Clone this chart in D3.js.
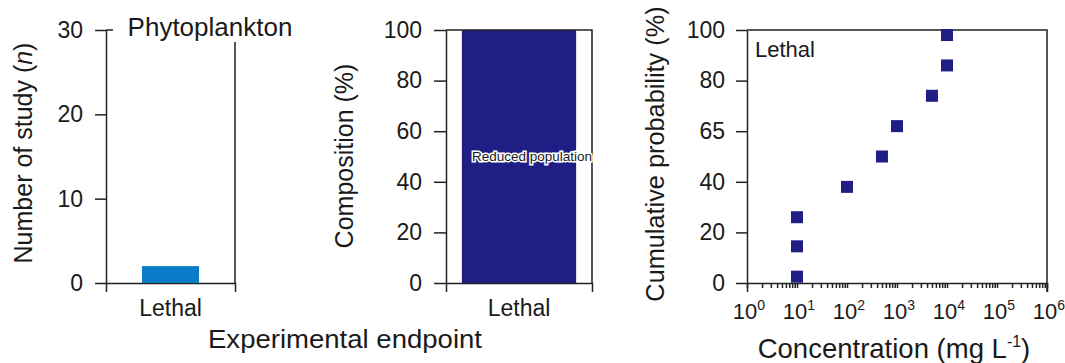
<!DOCTYPE html>
<html>
<head>
<meta charset="utf-8">
<script src="https://cdn.jsdelivr.net/npm/d3@7"></script>
<style>
  body { margin: 0; background: #fff; }
  svg text { font-family: "Liberation Sans", Arial, sans-serif; fill: #1a1a1a; }
  .domain, .tick line { stroke: #222; stroke-width: 1.5; }
</style>
</head>
<body>
<div id="chart"></div>
<script>
// data
var categories = ["Lethal"];
var studyCounts = [2];
var countTicks = [0, 10, 20, 30];

var compositionLabels = ["Reduced population"];
var compositionValues = [100];
var compTicks = [0, 20, 40, 60, 80, 100];

var concentrations = [10, 10, 10, 100, 500, 1000, 5000, 10000, 10000];
var cumulativeProb = [2.5, 14.5, 26, 38, 50, 62, 74, 86, 98];
var probTickValues = [0, 20, 40, 60, 80, 100];
var probTickLabels = ["0", "20", "40", "65", "80", "100"];
var concExponents = [0, 1, 2, 3, 4, 5, 6];

var W = 1065, H = 363;
var plotTop = 30, plotBottom = 283;
var lineCol = "#222";

var svg = d3.select("#chart")
  .append("svg")
  .attr("width", W)
  .attr("height", H);

// ---------- panel 1: number of studies ----------
var x1 = d3.scaleBand().domain(categories).range([106, 235]).padding(0.387);
var y1 = d3.scaleLinear().domain([0, 30]).range([plotBottom, plotTop]);

svg.append("g")
  .attr("transform", "translate(106,0)")
  .call(d3.axisLeft(y1).tickValues(countTicks).tickSize(11).tickSizeOuter(0).tickPadding(12))
  .call(g => g.selectAll(".tick text").style("font-size", "23px"));

// little cap at the top of the left axis
svg.append("line")
  .attr("x1", 106).attr("x2", 113)
  .attr("y1", plotTop).attr("y2", plotTop)
  .attr("stroke", lineCol).attr("stroke-width", 1.5);

svg.append("g")
  .attr("transform", "translate(0," + plotBottom + ")")
  .call(d3.axisBottom(x1).tickSize(0).tickSizeOuter(9).tickPadding(17))
  .call(g => g.selectAll(".tick text").style("font-size", "23px"));

svg.append("line")
  .attr("x1", 235).attr("x2", 235)
  .attr("y1", 42).attr("y2", plotBottom)
  .attr("stroke", lineCol).attr("stroke-width", 1.5);

svg.selectAll(".bar1")
  .data(studyCounts)
  .enter()
  .append("rect")
    .attr("x", (d, i) => x1(categories[i]))
    .attr("y", d => y1(d))
    .attr("width", x1.bandwidth())
    .attr("height", d => y1(0) - y1(d))
    .attr("fill", "#0a7bc8");

svg.append("text")
  .attr("x", 210).attr("y", 36)
  .attr("text-anchor", "middle")
  .style("font-size", "26px")
  .text("Phytoplankton");

svg.append("text")
  .attr("transform", "translate(32,153) rotate(-90)")
  .attr("text-anchor", "middle")
  .style("font-size", "25px")
  .call(t => {
    t.append("tspan").text("Number of study (");
    t.append("tspan").style("font-style", "italic").text("n");
    t.append("tspan").text(")");
  });

// ---------- panel 2: composition ----------
var x2 = d3.scaleBand().domain(categories).range([446, 592]).padding(0.122);
var y2 = d3.scaleLinear().domain([0, 100]).range([plotBottom, plotTop]);

svg.selectAll(".bar2")
  .data(compositionValues)
  .enter()
  .append("rect")
    .attr("x", (d, i) => x2(categories[i]))
    .attr("y", d => y2(d))
    .attr("width", x2.bandwidth())
    .attr("height", d => y2(0) - y2(d))
    .attr("fill", "#1e1e84");

svg.append("g")
  .attr("transform", "translate(446,0)")
  .call(d3.axisLeft(y2).tickValues(compTicks).tickSize(12).tickSizeOuter(0).tickPadding(12))
  .call(g => g.selectAll(".tick text").style("font-size", "23px"));

svg.append("g")
  .attr("transform", "translate(0," + plotBottom + ")")
  .call(d3.axisBottom(x2).tickSize(0).tickSizeOuter(9).tickPadding(17))
  .call(g => g.selectAll(".tick text").style("font-size", "23px"));

svg.append("path")
  .attr("d", "M446," + plotTop + "H592V" + plotBottom)
  .attr("fill", "none")
  .attr("stroke", lineCol).attr("stroke-width", 1.5);

svg.selectAll(".complab")
  .data(compositionLabels)
  .enter()
  .append("text")
    .attr("x", (d, i) => x2(categories[i]) + x2.bandwidth() / 2 + 13)
    .attr("y", y2(compositionValues[0] / 2) + 4)
    .attr("text-anchor", "middle")
    .attr("textLength", 120)
    .attr("lengthAdjust", "spacingAndGlyphs")
    .style("font-size", "13px")
    .style("stroke", "#fff")
    .style("stroke-width", 3)
    .style("paint-order", "stroke")
    .text(d => d);

svg.append("text")
  .attr("transform", "translate(353,156) rotate(-90)")
  .attr("text-anchor", "middle")
  .style("font-size", "25px")
  .text("Composition (%)");

svg.append("text")
  .attr("x", 345).attr("y", 348)
  .attr("text-anchor", "middle")
  .attr("textLength", 274)
  .attr("lengthAdjust", "spacingAndGlyphs")
  .style("font-size", "26px")
  .text("Experimental endpoint");

// ---------- panel 3: cumulative probability ----------
var x3 = d3.scaleLog().domain([1, 1e6]).range([747, 1047]);
var y3 = d3.scaleLinear().domain([0, 100]).range([plotBottom, plotTop]);

svg.append("g")
  .attr("transform", "translate(747,0)")
  .call(d3.axisLeft(y3).tickValues(probTickValues)
    .tickFormat((d, i) => probTickLabels[i])
    .tickSize(11).tickSizeOuter(0).tickPadding(11))
  .call(g => g.selectAll(".tick text").style("font-size", "23px"));

var xAxis3 = svg.append("g")
  .attr("transform", "translate(0," + plotBottom + ")")
  .call(d3.axisBottom(x3).tickValues(x3.ticks()).tickFormat("").tickSize(5).tickSizeOuter(9));

xAxis3.selectAll(".label")
  .data(concExponents)
  .enter()
  .append("text")
    .attr("x", d => x3(Math.pow(10, d)) + 2)
    .attr("y", 36)
    .attr("text-anchor", "middle")
    .style("font-size", "22px")
    .each(function(d) {
      var t = d3.select(this);
      t.append("tspan").text("10");
      t.append("tspan").attr("dy", -9).style("font-size", "14px").text(d);
    });

svg.append("path")
  .attr("d", "M747," + plotTop + "H1047V" + (plotBottom + 9))
  .attr("fill", "none")
  .attr("stroke", lineCol).attr("stroke-width", 1.5);

var sq = 12;
svg.selectAll(".pt")
  .data(concentrations)
  .enter()
  .append("rect")
    .attr("x", d => x3(d) - sq / 2)
    .attr("y", (d, i) => y3(cumulativeProb[i]) - sq / 2)
    .attr("width", sq)
    .attr("height", sq)
    .attr("fill", "#1e1e84");

svg.append("text")
  .attr("x", 755).attr("y", 57)
  .style("font-size", "22px")
  .text("Lethal");

svg.append("text")
  .attr("transform", "translate(664,154) rotate(-90)")
  .attr("text-anchor", "middle")
  .style("font-size", "25.3px")
  .text("Cumulative probability (%)");

svg.append("text")
  .attr("x", 894).attr("y", 358)
  .attr("text-anchor", "middle")
  .style("font-size", "27.5px")
  .call(t => {
    t.append("tspan").text("Concentration (mg L");
    t.append("tspan").attr("dy", -11).style("font-size", "16px").text("-1");
    t.append("tspan").attr("dy", 11).text(")");
  });
</script>
</body>
</html>
